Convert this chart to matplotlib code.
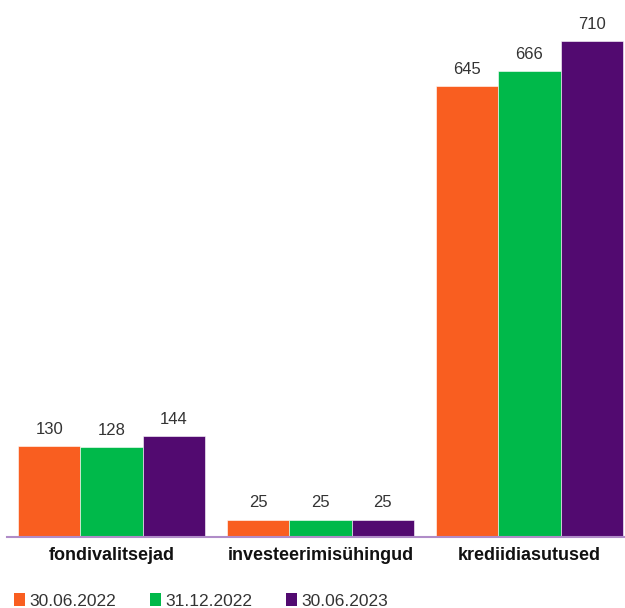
import numpy as np
import matplotlib.pyplot as plt
from matplotlib.patches import Patch

categories = ["fondivalitsejad", "investeerimisühingud", "krediidiasutused"]
series_names = ["30.06.2022", "31.12.2022", "30.06.2023"]
v_2022_06 = [130, 25, 645]
v_2022_12 = [128, 25, 666]
v_2023_06 = [144, 25, 710]

colors = ["#F95E20", "#00B94A", "#520A70"]

plt.rcParams["font.family"] = ["Liberation Sans", "DejaVu Sans"]

fig = plt.figure(figsize=(6.25, 6.08), dpi=100)
ax = fig.add_axes([0.0112, 0.1168, 0.9888, 0.8832])

x = np.arange(len(categories))
w = 0.297
for i, (vals, name) in enumerate(zip([v_2022_06, v_2022_12, v_2023_06], series_names)):
    bars = ax.bar(x + (i - 1) * w, vals, width=w, color=colors[i],
                  edgecolor="white", linewidth=0.4, label=name)
    ax.bar_label(bars, padding=6.5, fontsize=12, color="#333333")

ax.set_xlim(-0.5, 2.457)
ax.set_ylim(0, 768)
ax.set_yticks([])
ax.set_xticks(x)
ax.set_xticklabels(categories, fontsize=13, fontweight="bold", color="#111111")
ax.tick_params(axis="x", length=0, pad=7)
for s in ["top", "right", "left"]:
    ax.spines[s].set_visible(False)
ax.spines["bottom"].set_color("#B08CC8")
ax.spines["bottom"].set_linewidth(1.5)

handles = [Patch(facecolor=c, edgecolor="none") for c in colors]
fig.legend(handles, series_names, loc="lower left", bbox_to_anchor=(-0.003, -0.027),
           ncol=3, frameon=False, fontsize=12.5, handlelength=0.63, handleheight=0.75,
           handletextpad=0.25, columnspacing=1.95, labelcolor="#333333")

fig.savefig("out.png", dpi=100)
